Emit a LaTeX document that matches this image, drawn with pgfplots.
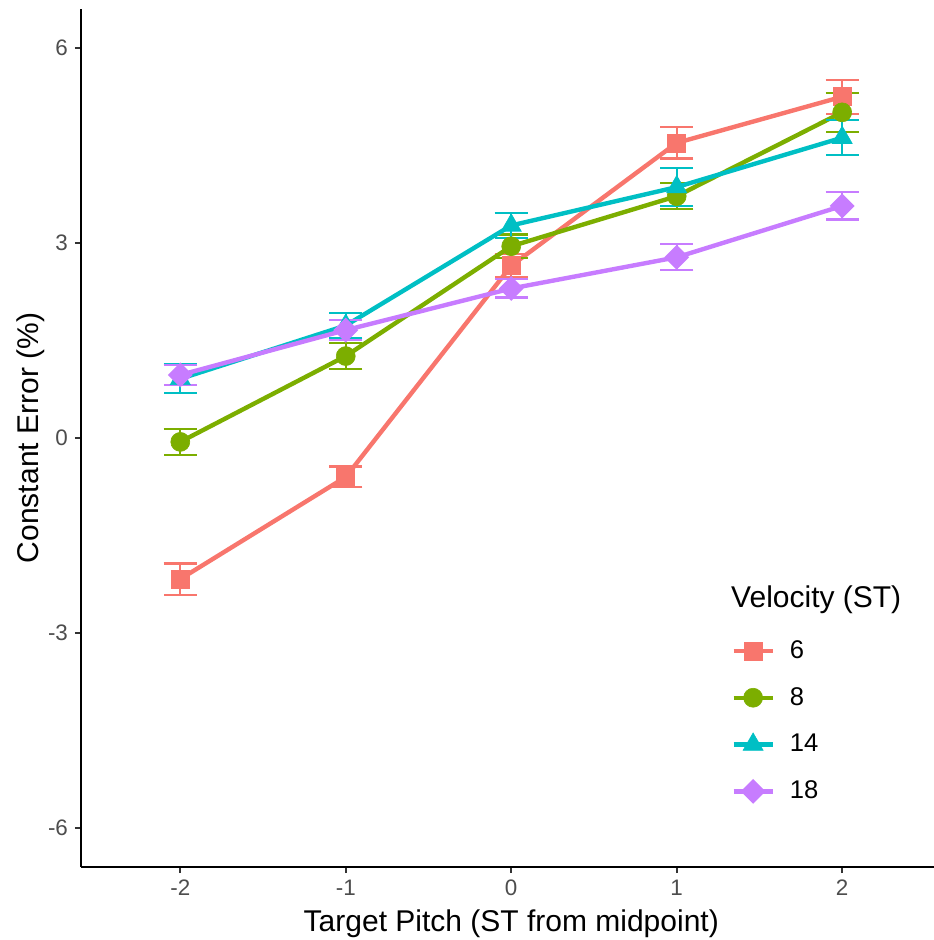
\documentclass[border=0pt]{standalone}
\usepackage{pgfplots}
\pgfplotsset{compat=1.18}
\usepackage{fontspec}
\setmainfont{Liberation Sans}
\definecolor{v6}{HTML}{F8766D}
\definecolor{v8}{HTML}{7CAE00}
\definecolor{v14}{HTML}{00BFC4}
\definecolor{v18}{HTML}{C77CFF}
\definecolor{ticktext}{HTML}{4D4D4D}
\definecolor{tickline}{HTML}{333333}

\pgfplotsset{
  vel/.style={line width=2.2pt, mark options={solid, line width=0.3pt},
    error bars/y dir=both, error bars/y explicit,
    error bars/error bar style={line width=1.1pt},
    error bars/error mark options={rotate=90, mark size=8.3pt, line width=1.1pt}},
}

\begin{document}
\begin{tikzpicture}
\begin{axis}[
  name=ax,
  scale only axis,
  width=426.5pt, height=429pt,
  xmin=-2.6, xmax=2.555, ymin=-6.6, ymax=6.6,
  axis lines=left,
  axis line style={-, line width=1pt, black},
  xtick={-2,-1,0,1,2}, ytick={-6,-3,0,3,6},
  minor tick num=0,
  tick align=outside,
  major tick length=3pt,
  tick style={tickline, line width=0.8pt},
  /pgf/number format/assume math mode=true,
  tick label style={font=\fontsize{11.2}{13}\selectfont, text=ticktext},
  xlabel={Target Pitch (ST from midpoint)},
  ylabel={Constant Error (\%)},
  label style={font=\fontsize{15}{17}\selectfont},
  xlabel style={at={(axis description cs:0.5044,-0.0659)}, anchor=center},
  ylabel style={at={(axis description cs:-0.0586,0.5)}, anchor=center},
  legend image code/.code={\draw[#1, mark repeat=2, mark phase=2]
    plot coordinates {(0pt,0pt) (9.75pt,0pt) (19.5pt,0pt)};},
  legend cell align=left,
  legend style={draw=none, fill=none, at={(axis cs:1.292,-4.356)}, anchor=west,
    font=\fontsize{12.8}{15}\selectfont,
    row sep=0pt,
    nodes={inner sep=0pt, minimum height=23.4pt}},
  clip=false,
]
\addplot[v6, vel, mark=square*, mark size=4.5pt] coordinates {
  (-2,-2.17) +- (0,0.24)
  (-1,-0.60) +- (0,0.16)
  (0,2.65)   +- (0,0.18)
  (1,4.54)   +- (0,0.24)
  (2,5.25)   +- (0,0.26)
};
\addlegendentry{\hspace{7.5pt}6}
\addplot[v8, vel, mark=*, mark size=4.75pt] coordinates {
  (-2,-0.06) +- (0,0.20)
  (-1,1.26)  +- (0,0.20)
  (0,2.95)   +- (0,0.18)
  (1,3.72)   +- (0,0.20)
  (2,5.01)   +- (0,0.30)
};
\addlegendentry{\hspace{7.5pt}8}
\addplot[v14, vel, mark=triangle*, mark size=5.8pt] coordinates {
  (-2,0.91) +- (0,0.22)
  (-1,1.73) +- (0,0.19)
  (0,3.27)  +- (0,0.19)
  (1,3.86)  +- (0,0.29)
  (2,4.62)  +- (0,0.27)
};
\addlegendentry{\hspace{7.5pt}14}
\addplot[v18, vel, mark=square*, mark size=3.3pt, mark options={rotate=45}] coordinates {
  (-2,0.97) +- (0,0.15)
  (-1,1.66) +- (0,0.15)
  (0,2.30)  +- (0,0.14)
  (1,2.78)  +- (0,0.20)
  (2,3.57)  +- (0,0.21)
};
\addlegendentry{\hspace{7.5pt}18}
\node[anchor=base west, font=\fontsize{15}{17}\selectfont, inner sep=0pt]
  at (axis cs:1.327,-2.615) {Velocity (ST)};
\end{axis}
\pgfresetboundingbox
\path[use as bounding box] ([shift={(-40.5pt,-36.5pt)}]ax.south west)
  rectangle ([shift={(0pt,4.5pt)}]ax.north east);
\end{tikzpicture}
\end{document}
